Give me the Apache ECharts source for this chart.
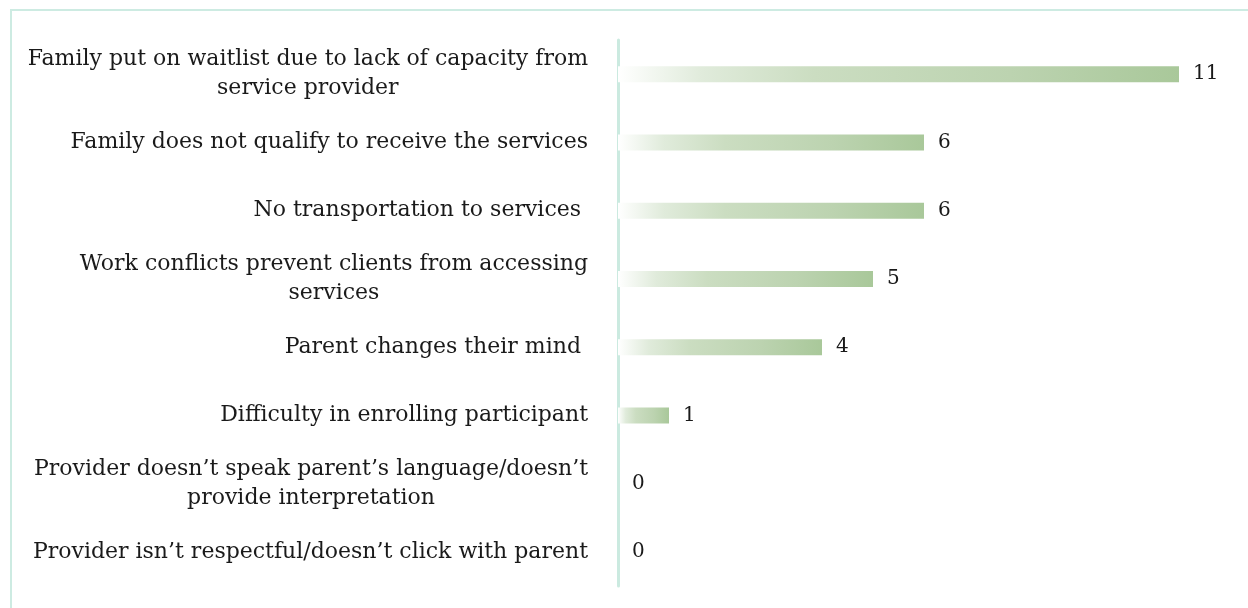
<!DOCTYPE html>
<html>
<head>
<meta charset="utf-8">
<style>
  html, body { margin: 0; padding: 0; background: #ffffff; }
  #chart { width: 1248px; height: 608px; }
</style>
<script src="https://cdn.jsdelivr.net/npm/echarts@6/dist/echarts.min.js"></script>
</head>
<body>
<div id="chart"></div>
<script>
// Reasons families did not receive services (counts)
const categories = [
  'Family put on waitlist due to lack of capacity from\nservice provider',
  'Family does not qualify to receive the services',
  'No transportation to services ',
  'Work conflicts prevent clients from accessing\nservices',
  'Parent changes their mind ',
  'Difficulty in enrolling participant',
  'Provider doesn\u2019t speak parent\u2019s language/doesn\u2019t\nprovide interpretation',
  'Provider isn\u2019t respectful/doesn\u2019t click with parent'
];
const counts = [11, 6, 6, 5, 4, 1, 0, 0];

const FONT = '"DejaVu Serif", serif';

const chart = echarts.init(document.getElementById('chart'), null, { renderer: 'canvas' });

const barFill = new echarts.graphic.LinearGradient(0, 0, 1, 0, [
  { offset: 0, color: '#ffffff' },
  { offset: 0.15, color: '#e0ebdb' },
  { offset: 0.35, color: '#cbddc1' },
  { offset: 0.7, color: '#bcd3b0' },
  { offset: 1, color: '#a9c89a' }
]);

chart.setOption({
  animation: false,
  backgroundColor: '#ffffff',
  graphic: [{
    // frame that runs off the right and bottom edges
    type: 'rect',
    shape: { x: 11, y: 10, width: 1260, height: 620 },
    style: { fill: 'none', stroke: '#cdebe2', lineWidth: 2 },
    silent: true,
    z: 0
  }],
  grid: { left: 618, right: 18, top: 40, bottom: 22, containLabel: false },
  xAxis: {
    type: 'value',
    min: 0,
    max: 12,
    show: false
  },
  yAxis: {
    type: 'category',
    data: categories,
    inverse: true,
    axisLine: { show: true, lineStyle: { color: '#cbeae0', width: 3 } },
    axisTick: { show: false },
    splitLine: { show: false },
    axisLabel: {
      margin: 30,
      align: 'right',
      lineHeight: 29,
      formatter: function (value) {
        return value.split('\n').map(function (l) { return '{c|' + l + '}'; }).join('\n');
      },
      rich: {
        c: { align: 'center', fontFamily: FONT, fontSize: 22, color: '#1a1a1a', lineHeight: 29 }
      }
    }
  },
  series: [{
    type: 'bar',
    data: counts,
    barWidth: 16,
    itemStyle: { color: barFill },
    label: {
      show: true,
      position: 'right',
      distance: 14,
      fontFamily: FONT,
      fontSize: 20,
      color: '#1a1a1a'
    }
  }]
});
</script>
</body>
</html>
